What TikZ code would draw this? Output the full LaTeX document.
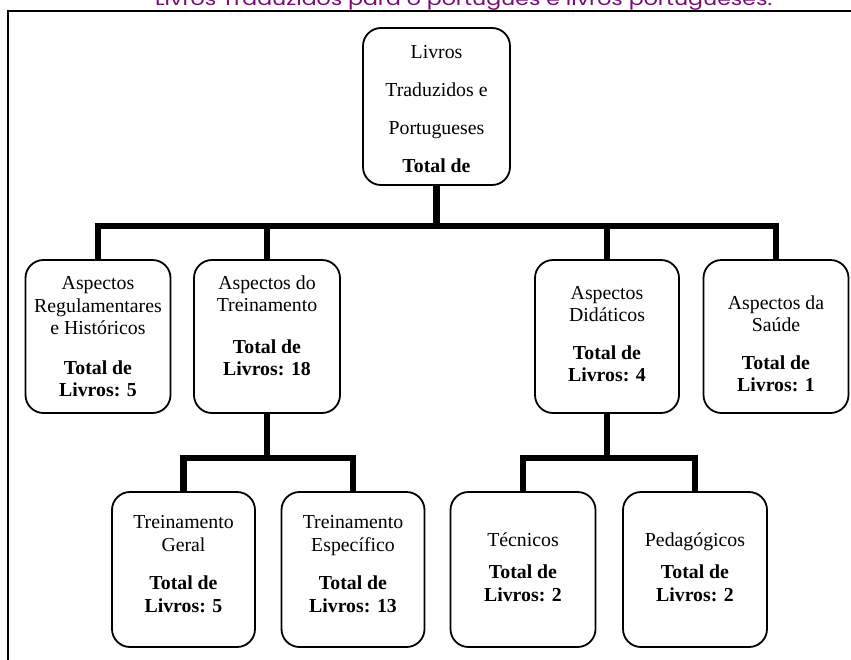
\documentclass[tikz,border=0pt]{standalone}
\usepackage{fontspec}
\setmainfont{Liberation Serif}
\newfontfamily\capfont{Poppins}
\definecolor{capcol}{RGB}{122,8,122}
\begin{document}
\begin{tikzpicture}[x=1pt,y=-1pt,
  box/.style={draw, line width=1.8pt, rounded corners=18pt, minimum width=#1, inner sep=0pt},
  txt/.style={align=center, inner sep=0pt, font=\fontsize{19.8}{22.5}\selectfont},
  conn/.style={line width=6.5pt, line join=miter, line cap=butt},
  frame/.style={line width=2.3pt}
]
\useasboundingbox (0,0) rectangle (851,659);
\begin{scope}
\clip (0,0) rectangle (851,659);
\node[anchor=base west, inner sep=0pt, text=capcol, font=\capfont\fontsize{18}{20}\selectfont] (cap) at (155,5.2)
  {\resizebox{617pt}{\height}{Livros Traduzidos para o português e livros portugueses.}};
\draw[frame] (8,660) -- (8,11) -- (852,11);
\end{scope}

% boxes
\node[box=147pt, minimum height=157pt] (T0) at (436.5,106.5) {};
\node[box=145pt, minimum height=153pt] (B1) at (98,336.5) {};
\node[box=146pt, minimum height=153pt] (B2) at (267,336.5) {};
\node[box=144pt, minimum height=153pt] (B3) at (607,336.5) {};
\node[box=145pt, minimum height=153pt] (B4) at (776,336.5) {};
\node[box=143pt, minimum height=155pt] (C1) at (183.5,569.5) {};
\node[box=143pt, minimum height=155pt] (C2) at (353,569.5) {};
\node[box=145pt, minimum height=155pt] (C3) at (523,569.5) {};
\node[box=144pt, minimum height=155pt] (C4) at (695,569.5) {};

% texts
\node[txt] (t0) at (436.5,109) {Livros\\[15.5pt]Traduzidos e\\[15.5pt]Portugueses\\[15.5pt]\textbf{Total de}};
\node[txt] (t1) at (98,337) {Aspectos\\Regulamentares\\e Históricos\\[17pt]\textbf{Total de}\\\textbf{Livros: 5}};
\node[txt] (t2) at (267,326) {Aspectos do\\Treinamento\\[19pt]\textbf{Total de}\\\textbf{Livros: 18}};
\node[txt] (t3) at (607,334) {Aspectos\\Didáticos\\[15pt]\textbf{Total de}\\\textbf{Livros: 4}};
\node[txt] (t4) at (776,344) {Aspectos da\\Saúde\\[15pt]\textbf{Total de}\\\textbf{Livros: 1}};
\node[txt] (u1) at (183.5,564) {Treinamento\\Geral\\[16pt]\textbf{Total de}\\\textbf{Livros: 5}};
\node[txt] (u2) at (353,564) {Treinamento\\Específico\\[16pt]\textbf{Total de}\\\textbf{Livros: 13}};
\node[txt] (u3) at (523,567) {Técnicos\\[9.5pt]\textbf{Total de}\\\textbf{Livros: 2}};
\node[txt] (u4) at (695,567) {Pedagógicos\\[9.5pt]\textbf{Total de}\\\textbf{Livros: 2}};

% connectors
\coordinate (j0) at (437,226);
\coordinate (j1) at (267,458);
\coordinate (j2) at (607,458);
\draw[conn] (T0.south) -- (T0.south |- j0);
\draw[conn] (B1.north) |- (j0 -| B4.north) -- (B4.north);
\draw[conn] (B2.north) -- (B2.north |- j0);
\draw[conn] (B3.north) -- (B3.north |- j0);
\draw[conn] (B2.south) -- (B2.south |- j1);
\draw[conn] (C1.north) |- (j1 -| C2.north) -- (C2.north);
\draw[conn] (B3.south) -- (B3.south |- j2);
\draw[conn] (C3.north) |- (j2 -| C4.north) -- (C4.north);
\end{tikzpicture}
\end{document}
